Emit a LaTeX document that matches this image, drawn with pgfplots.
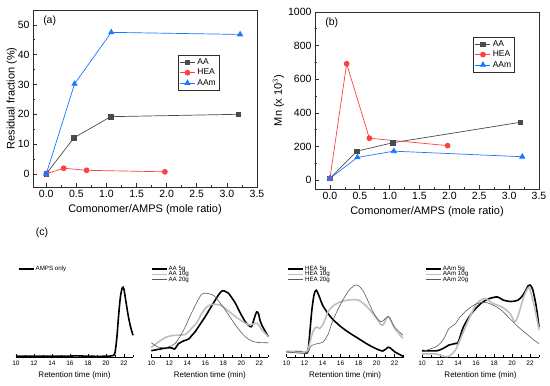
\documentclass[border=0pt]{standalone}
\usepackage{pgfplots}
\pgfplotsset{compat=1.18}
\usepackage{fontspec}
\setmainfont{Liberation Sans}
\definecolor{cAA}{RGB}{75,75,75}
\definecolor{cHEA}{RGB}{255,64,64}
\definecolor{cAAm}{RGB}{25,120,255}
\definecolor{frame}{RGB}{45,45,45}
\definecolor{lgray}{RGB}{190,190,190}
\definecolor{dgray}{RGB}{90,90,90}
\pgfplotsset{
 topax/.style={scale only axis, width=224pt, height=177pt,
  axis line style={frame, line width=0.9pt}, tick style={frame, line width=0.7pt},
  tick align=inside, xtick pos=bottom, ytick pos=left,
  major tick length=4pt, minor tick length=2pt, minor tick num=1,
  tick label style={font=\fontsize{10.5}{12}\selectfont},
  label style={font=\fontsize{11}{13}\selectfont},
  /pgf/number format/assume math mode=true,
  /pgf/number format/set thousands separator={},
  xmax=3.5, xtick={0,0.5,...,3.5},
  xticklabel style={/pgf/number format/.cd, fixed, fixed zerofill, precision=1},
  xlabel={Comonomer/AMPS (mole ratio)},
  legend cell align=left,
  legend style={draw=frame, line width=0.5pt, font=\fontsize{8.5}{10}\selectfont, inner sep=1.5pt, row sep=-1pt},
  legend image code/.code={\draw[mark repeat=2,mark phase=2,#1] plot coordinates {(0pt,0pt) (7.5pt,0pt) (15pt,0pt)};},
 },
 sAA/.style={color=cAA, line width=0.7pt, mark=square*, mark size=2.2pt, mark options={fill=cAA, draw=cAA}},
 sHEA/.style={color=cHEA, line width=0.7pt, mark=*, mark size=2.5pt, mark options={fill=cHEA, draw=cHEA}},
 sAAm/.style={color=cAAm, line width=0.7pt, mark=triangle*, mark size=3pt, mark options={fill=cAAm, draw=cAAm}},
 gpc/.style={scale only axis, width=117pt, height=75pt, xmin=10, xmax=23, ymin=0, ymax=1, clip=false,
  axis x line=bottom, axis y line=none, x axis line style={-, line width=0.6pt, black},
  xtick={10,12,...,22}, minor xtick={11,13,...,23}, tick align=inside, tick style={black, line width=0.5pt},
  major tick length=2.5pt, minor tick length=1.5pt,
  tick label style={font=\fontsize{6.5}{7}\selectfont},
  /pgf/number format/assume math mode=true,
  xlabel={Retention time (min)}, label style={font=\fontsize{8}{9}\selectfont},
  legend cell align=left,
  legend style={draw=none, fill=none, font=\fontsize{6.2}{6}\selectfont,
    nodes={inner sep=0pt, text height=4pt, text depth=1.3pt}, row sep=0pt, column sep=1pt},
  legend image code/.code={\draw[#1] (0pt,0pt) -- (15pt,0pt);},
 },
 g1/.style={black, line width=1.6pt},
 g2/.style={lgray, line width=1.6pt},
 g3/.style={dgray, line width=0.6pt},
}
\begin{document}
\begin{tikzpicture}
\path[use as bounding box] (0pt,0pt) rectangle (550pt,386pt);
% ---------- (a)
\begin{axis}[topax, at={(33pt,199pt)}, anchor=south west, xmin=-0.22, ymin=-4.4, ymax=55,
  ytick={0,10,...,50}, ylabel={Residual fraction (\%)}, ylabel shift=-6pt,
  legend style={at={(0.647,0.746)}, anchor=north west}]
\addplot[sAA] coordinates {(0,0) (0.46,12.1) (1.07,19.2) (3.19,20.0)};
\addlegendentry{AA}
\addplot[sHEA] coordinates {(0,0) (0.29,1.9) (0.67,1.2) (1.97,0.7)};
\addlegendentry{HEA}
\addplot[sAAm] coordinates {(0,0) (0.47,30.2) (1.08,47.5) (3.22,46.8)};
\addlegendentry{AAm}
\node[anchor=north west, font=\fontsize{10.5}{12}\selectfont] at (rel axis cs:0.03,0.985) {(a)};
\end{axis}
% ---------- (b)
\begin{axis}[topax, at={(315pt,197pt)}, anchor=south west, xmin=-0.25, ymin=-53, ymax=1000,
  ytick={0,200,...,1000}, ylabel={Mn (x 10$^{3}$)}, ylabel shift=-3pt,
  legend style={at={(0.707,0.86)}, anchor=north west}]
\addplot[sAA] coordinates {(0,10) (0.45,172) (1.05,222) (3.19,344)};
\addlegendentry{AA}
\addplot[sHEA] coordinates {(0,10) (0.28,692) (0.66,249) (1.97,205)};
\addlegendentry{HEA}
\addplot[sAAm] coordinates {(0,10) (0.46,135) (1.07,172) (3.22,139)};
\addlegendentry{AAm}
\node[anchor=north west, font=\fontsize{10.5}{12}\selectfont] at (rel axis cs:0.03,0.985) {(b)};
\end{axis}
\node[font=\fontsize{10.5}{12}\selectfont] at (42pt,153pt) {(c)};
% ---------- (c1)
\begin{axis}[gpc, at={(16pt,29pt)}, anchor=south west,
  legend style={at={(-0.01,1.236)}, anchor=north west}]
\addplot[g1, smooth] coordinates {(10,0.01) (12,0.012) (14,0.01) (16,0.012) (16.8,0.016) (18,0.01) (20,0.01) (20.8,0.02) (21.0,0.06) (21.2,0.25) (21.4,0.55) (21.6,0.8) (21.8,0.92) (21.9,0.93) (22.0,0.9) (22.2,0.75) (22.4,0.6) (22.6,0.47) (22.8,0.37) (23,0.29)};
\addlegendentry{AMPS only}
\end{axis}
% ---------- (c2)
\begin{axis}[gpc, at={(151.3pt,29pt)}, anchor=south west,
  legend style={at={(-0.03,1.236)}, anchor=north west}]
\addplot[g1, smooth] coordinates {(10,0.084) (11.19,0.111) (11.93,0.124) (12.3,0.12) (12.6,0.107) (13.04,0.18) (13.5,0.21) (14.15,0.24) (14.52,0.29) (14.89,0.34) (15.5,0.45) (16.0,0.54) (16.6,0.66) (17.11,0.76) (17.6,0.85) (17.93,0.884) (18.3,0.87) (18.59,0.849) (19.33,0.72) (19.7,0.63) (20.44,0.47) (21.0,0.405) (21.2,0.42) (21.45,0.52) (21.7,0.6) (21.9,0.58) (22.1,0.48) (22.3,0.42) (23,0.27)};
\addlegendentry{AA 5g}
\addplot[g2, smooth] coordinates {(10,0.13) (10.8,0.2) (11.56,0.26) (12.3,0.285) (13.22,0.293) (13.78,0.3) (14.15,0.338) (14.6,0.4) (15.07,0.46) (15.6,0.58) (16.19,0.67) (16.74,0.702) (17.3,0.70) (17.67,0.693) (18.22,0.649) (19.33,0.54) (20.44,0.45) (21.0,0.427) (21.74,0.45) (22.3,0.36) (23,0.27)};
\addlegendentry{AA 10g}
\addplot[g3, smooth] coordinates {(10,0.19) (10.81,0.13) (11.74,0.13) (12.67,0.182) (13.59,0.36) (14.52,0.6) (15.2,0.76) (15.63,0.84) (16.2,0.85) (16.74,0.83) (17.11,0.80) (18.22,0.627) (19.33,0.43) (20.44,0.27) (21.5,0.2) (23,0.19)};
\addlegendentry{AA 20g}
\end{axis}
% ---------- (c3)
\begin{axis}[gpc, at={(286.6pt,29pt)}, anchor=south west,
  legend style={at={(-0.02,1.236)}, anchor=north west}]
\addplot[g1, smooth] coordinates {(10,0.07) (11.6,0.07) (12.2,0.05) (12.4,0.1) (12.6,0.35) (12.8,0.62) (13.05,0.83) (13.3,0.89) (13.65,0.80) (14.0,0.69) (14.6,0.58) (15.15,0.50) (16.07,0.40) (17.0,0.32) (17.93,0.25) (18.85,0.18) (19.78,0.12) (20.7,0.08) (21.26,0.13) (21.63,0.11) (22.0,0.07) (22.93,0.01)};
\addlegendentry{HEA 5g}
\addplot[g2, smooth] coordinates {(10,0.07) (12.19,0.07) (12.5,0.15) (12.9,0.33) (13.3,0.40) (13.7,0.38) (14.1,0.45) (14.6,0.6) (15.15,0.68) (16.07,0.74) (17.0,0.76) (17.93,0.76) (18.85,0.68) (19.78,0.55) (20.5,0.43) (20.8,0.44) (21.26,0.54) (21.63,0.48) (22.0,0.38) (22.93,0.25)};
\addlegendentry{HEA 10g}
\addplot[g3, smooth] coordinates {(10,0.07) (12.19,0.05) (12.74,0.15) (13.5,0.18) (14.04,0.2) (14.6,0.3) (15.15,0.49) (16.07,0.72) (17.0,0.9) (17.8,0.96) (18.5,0.88) (19.3,0.68) (19.8,0.56) (20.5,0.47) (21.26,0.54) (21.63,0.48) (22.0,0.4) (22.93,0.29)};
\addlegendentry{HEA 20g}
\end{axis}
% ---------- (c4)
\begin{axis}[gpc, at={(422pt,29pt)}, anchor=south west,
  legend style={at={(0.0,1.236)}, anchor=north west}]
\addplot[g1, smooth] coordinates {(10,0.084) (11.7,0.084) (12.7,0.138) (13.0,0.16) (13.7,0.18) (14.04,0.2) (14.6,0.4) (15.5,0.58) (16.6,0.72) (17.5,0.78) (18.4,0.80) (19.0,0.76) (19.9,0.74) (20.7,0.76) (21.3,0.84) (21.8,0.95) (22.0,0.96) (22.3,0.9) (22.7,0.67) (23,0.40)};
\addlegendentry{AAm 5g}
\addplot[g2, smooth] coordinates {(10,0.04) (11.6,0.04) (12.4,0.01) (13.0,0.01) (13.7,0.09) (14.2,0.22) (15.15,0.49) (16.07,0.71) (17.0,0.78) (17.93,0.71) (18.85,0.67) (19.78,0.58) (20.3,0.47) (20.7,0.56) (21.3,0.8) (21.8,0.92) (22.0,0.9) (22.5,0.67) (23.0,0.36)};
\addlegendentry{AAm 10g}
\addplot[g3, smooth] coordinates {(10,0.07) (11.6,0.14) (12.4,0.24) (13.0,0.38) (13.7,0.44) (14.2,0.53) (15.15,0.64) (16.07,0.71) (17.0,0.73) (17.93,0.69) (18.85,0.62) (19.78,0.51) (20.7,0.40) (21.6,0.31) (22.5,0.22) (23,0.18)};
\addlegendentry{AAm 20g}
\end{axis}
\end{tikzpicture}
\end{document}
